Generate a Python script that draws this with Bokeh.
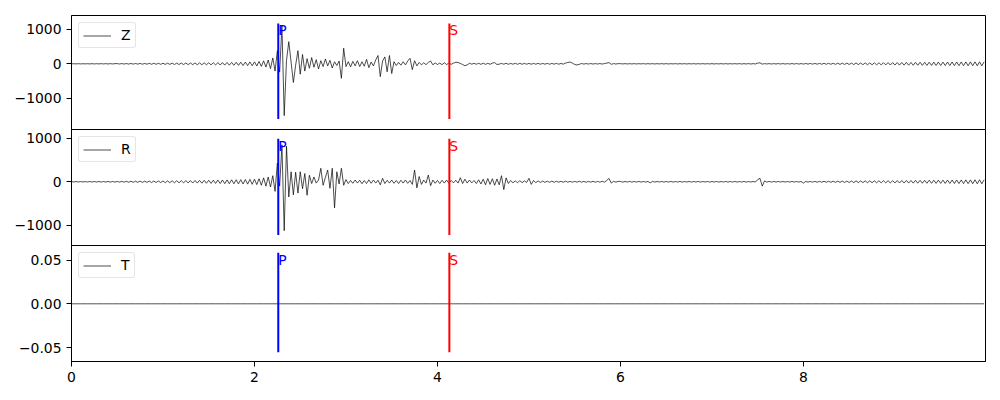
import numpy as np
from bokeh.plotting import figure
from bokeh.layouts import column
from bokeh.models import FixedTicker, Range1d, Legend, LegendItem, ColumnDataSource
from bokeh.core.properties import value
from bokeh.embed import file_html
from bokeh.resources import INLINE

# ---------------- data ----------------
dt = 0.025
n_samples = 400

Z_values = [
    0, 2, -2, 3, -3, 2, -2, 3, -3, 4, -4, 3, -3, 4, -4, 5, -5, 4, -4, 5,
    6, -6, 7, -7, 8, -8, 9, -9, 10, -10, 11, -11, 12, -12, 13, -13, 14, -14, 15, -15,
    16, -17, 18, -18, 19, -20, 20, -21, 22, -22, 23, -24, 24, -25, 26, -26, 27, -28, 28, -29,
    30, -31, 32, -33, 34, -35, 36, -37, 38, -40, 41, -43, 44, -46, 47, -49, 50, -52, 54, -56,
    58, -62, 68, -75, 85, -95, 110, -140, 170, -210, 380, -240, 1110, -1500, 100, 640, 50, -540, -40, 380,
    -300, 270, -210, 150, -130, 180, -100, 120, -150, 90, -80, 140, -60, 100, -120, 60, -50, 80, -420, 450,
    -80, 60, -90, 70, -60, 90, -80, 60, -70, 130, -110, 50, -60, 110, 240, -370, 80, 200, -230, 240,
    -280, 60, -50, 40, -40, 60, -30, 80, 160, -170, 90, -60, 40, -30, 30, -25, 40, 80, -30, 25,
    -20, 20, -25, 30, -20, 20, -15, 20, 45, 40, 10, -20, -55, -30, 15, -10, 12, -12, 15, -15,
    15, -15, 14, -14, 20, 35, -20, -10, 12, -12, 14, -14, 12, -12, 14, -14, 13, -13, 12, -12,
    12, -12, 11, -11, 12, -12, 11, -11, 12, -12, 10, -10, 11, -11, 10, -10, 20, 40, 50, 20,
    -20, -35, -15, 8, -8, 7, -7, 8, -8, 6, -6, 7, -7, 6, 20, 35, -15, 6, -6, 5,
    4, -4, 5, -5, 4, -4, 5, -5, 4, -4, 5, -5, 4, -4, 5, -5, 4, -4, 5, -5,
    5, -5, 4, -4, 5, -5, 4, -4, 5, -5, 4, -4, 5, -5, 4, -4, 5, -5, 4, -4,
    5, -5, 4, -4, 5, -5, 5, -5, 4, -4, 5, -5, 6, -6, 5, -5, 6, -6, 5, -5,
    20, 28, -10, 5, -5, 6, -6, 5, -5, 6, -6, 7, -7, 6, -6, 7, -7, 8, -8, 7,
    -8, 9, -9, 10, -10, 11, -11, 12, -12, 13, -13, 14, -14, 15, -15, 17, -17, 18, -18, 20,
    -20, 22, -22, 24, -24, 25, -26, 27, -27, 28, -29, 30, -30, 31, -32, 33, -33, 34, -35, 36,
    -36, 37, -38, 38, -39, 40, -41, 41, -42, 43, -43, 44, -45, 45, -46, 47, -47, 48, -48, 49,
    -50, 50, -51, 51, -52, 52, -53, 53, -54, 54, -55, 55, -55, 56, -56, 56, -57, 57, -57, 58,
]

R_values = [
    3, -3, 4, -4, 5, -5, 5, -5, 6, -6, 6, -6, 7, -7, 7, -7, 8, -8, 8, -8,
    9, -9, 10, -10, 11, -11, 12, -12, 13, -13, 14, -14, 15, -15, 16, -16, 17, -17, 18, -18,
    19, -20, 21, -21, 22, -23, 24, -24, 25, -26, 27, -27, 28, -29, 30, -30, 31, -32, 33, -34,
    35, -36, 37, -38, 39, -40, 41, -42, 43, -44, 45, -46, 47, -48, 49, -50, 52, -54, 56, -58,
    60, -65, 70, -80, 90, -100, 110, -120, 140, -220, 430, -100, 850, -1125, 815, -350, 230, -300, 220, -260,
    230, -160, 190, -310, 150, -40, 110, -30, 40, 310, -80, 100, 270, -150, 310, -600, 230, -50, 310, -80,
    50, -40, 30, -35, 40, -30, 35, -45, 30, -40, 45, -35, 40, -30, 35, -70, 80, -40, 35, -30,
    40, -35, 30, -40, 35, -30, 40, -35, 30, -60, 270, -140, 120, -60, 40, -30, 155, -90, 40, -35,
    30, -40, 35, -30, 40, -35, 30, -25, 35, -30, 93, -40, 60, -30, 40, -25, 30, -40, 45, -50,
    60, -70, 75, -60, 70, -80, 65, -70, 140, -180, 90, -40, 30, -25, 20, -20, 25, -20, 20, -15,
    80, -60, 30, -20, 20, -15, 18, -15, 15, -12, 14, -12, 12, -10, 12, -10, 12, -10, 10, -10,
    10, -10, 12, -10, 10, -12, 10, -10, 12, -10, 10, -10, 12, -10, 30, 78, -30, 10, -8, 8,
    8, -8, 7, -7, 8, -8, 7, -7, 8, -8, 7, -7, 8, -25, 8, -7, 6, -6, 7, -7,
    6, -6, 7, -7, 6, -6, 7, -7, 6, -6, 7, -7, 6, -6, 7, -7, 6, -6, 7, -7,
    6, -6, 7, -7, 6, -6, 7, -7, 6, -6, 7, -7, 6, -6, 7, -7, 6, -6, 7, -7,
    50, 80, -100, 20, -8, 8, -7, 7, -6, 6, -6, 6, -6, 6, -6, 6, -6, 6, -7, 7,
    -30, 8, -8, 8, -9, 9, -10, 10, -10, 11, -11, 12, -12, 13, -13, 14, -14, 15, -15, 16,
    -17, 18, -18, 19, -19, 20, -20, 21, -21, 22, -22, 23, -23, 24, -24, 25, -25, 26, -26, 27,
    -27, 28, -28, 29, -29, 30, -30, 31, -31, 32, -32, 33, -33, 34, -34, 35, -35, 36, -36, 37,
    -37, 38, -38, 39, -39, 40, -40, 41, -41, 42, -42, 43, -43, 44, -44, 45, -45, 46, -46, 47,
]

T_values = [0.0] * n_samples

channels = ["Z", "R", "T"]
P_time = 2.26
S_time = 4.13
pick_low = [-1600, -1223, -0.0555]
pick_high = [1170, 990, 0.0585]
y_limits = [(-1930, 1398), (-1488, 1202), (-0.066, 0.0667)]
y_ticks = [[-1000, 0, 1000], [-1000, 0, 1000], [-0.05, 0.0, 0.05]]
y_tick_labels = [["\u22121000", "0", "1000"], ["\u22121000", "0", "1000"], ["\u22120.05", "0.00", "0.05"]]
x_ticks = [0, 2, 4, 6, 8]
x_end = 9.99

time = np.arange(n_samples) * dt
traces = [Z_values, R_values, T_values]

# ---------------- styling ----------------
FONT = "DejaVu Sans"
FS = "13.9px"
x_range = Range1d(0, x_end)

heights = [130, 117, 147]
tops = [15, 0, 0]
bottoms = [0, 0, 31]

figs = []
for i, ch in enumerate(channels):
    p = figure(width=992, height=heights[i], x_range=x_range,
               y_range=Range1d(*y_limits[i]), output_backend="svg",
               toolbar_location=None, min_border_left=71, min_border_right=7,
               min_border_top=tops[i], min_border_bottom=bottoms[i])
    if i > 0:
        p.margin = (-1, 0, 0, 0)
    p.grid.visible = False
    p.outline_line_color = "black"
    p.outline_line_alpha = 1.0
    p.outline_line_width = 1
    p.background_fill_color = "white"
    p.border_fill_color = None

    for ax in (p.xaxis, p.yaxis):
        ax.axis_line_color = "black"
        ax.major_tick_line_color = "black"
        ax.major_tick_out = 5
        ax.major_tick_in = 0
        ax.minor_tick_line_color = None
        ax.major_label_text_font = FONT
        ax.major_label_text_font_size = FS
        ax.major_label_text_color = "black"
        ax.major_label_standoff = 5

    p.yaxis.ticker = FixedTicker(ticks=y_ticks[i])
    p.yaxis.major_label_overrides = {t: l for t, l in zip(y_ticks[i], y_tick_labels[i])}
    p.xaxis.ticker = FixedTicker(ticks=x_ticks)
    p.xaxis.major_label_overrides = {t: str(t) for t in x_ticks}
    if i < 2:
        p.xaxis.visible = False

    src = ColumnDataSource(dict(t=time, v=traces[i]))
    r = p.line("t", "v", source=src, line_color="black", line_width=0.7)

    # picks
    p.segment(x0=[P_time], x1=[P_time], y0=[pick_low[i]], y1=[pick_high[i]],
              line_color="blue", line_width=2)
    p.segment(x0=[S_time], x1=[S_time], y0=[pick_low[i]], y1=[pick_high[i]],
              line_color="red", line_width=2)
    p.text(x=[P_time], y=[pick_high[i]], text=["P"], text_color="blue",
           text_font=value(FONT), text_font_size=FS, text_align="left",
           text_baseline="top", x_offset=0, y_offset=-1)
    p.text(x=[S_time], y=[pick_high[i]], text=["S"], text_color="red",
           text_font=value(FONT), text_font_size=FS, text_align="left",
           text_baseline="top", x_offset=0, y_offset=-1)

    legend = Legend(items=[LegendItem(label=ch, renderers=[r])], location="top_left")
    legend.margin = 7
    legend.padding = 4
    legend.spacing = 0
    legend.label_height = 13
    legend.label_width = 0
    legend.glyph_height = 13
    legend.glyph_width = 28
    legend.label_standoff = 10
    legend.label_text_font = FONT
    legend.label_text_font_size = FS
    legend.label_text_color = "black"
    legend.border_line_color = "#cccccc"
    legend.border_line_width = 1
    legend.background_fill_color = "white"
    legend.background_fill_alpha = 0.8
    try:
        legend.border_radius = 3
    except Exception:
        pass
    p.add_layout(legend)
    figs.append(p)

layout = column(*figs, spacing=0)
open("out.html", "w").write(file_html(layout, INLINE))
